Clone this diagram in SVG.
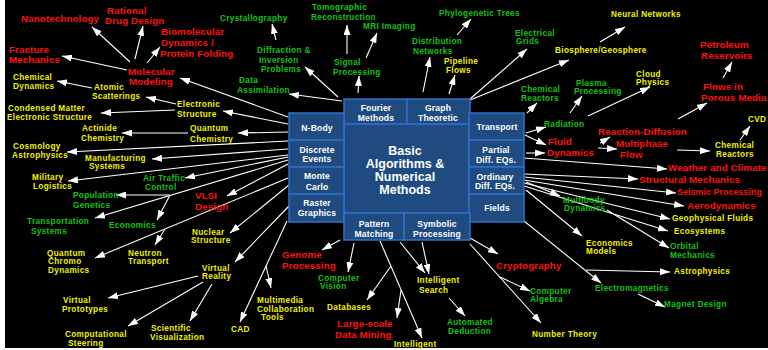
<svg xmlns="http://www.w3.org/2000/svg" width="768" height="350" viewBox="0 0 768 350">
<defs>
<marker id="ah" viewBox="0 0 10 7" refX="10" refY="3.5" markerWidth="10" markerHeight="7" markerUnits="userSpaceOnUse" orient="auto"><path d="M0,0 L10,3.5 L0,7 z" fill="#fff"/></marker>
<style>
.box{fill:#1f4b80;stroke:#2f70c8;stroke-width:1.5}
.bt{font-family:"Liberation Sans",Arial,sans-serif;font-weight:bold;font-size:8.6px;letter-spacing:0.15px;fill:#fff;text-anchor:middle}
.ct{font-family:"Liberation Sans",Arial,sans-serif;font-weight:bold;font-size:12.5px;fill:#fff;text-anchor:middle}
text.l{font-family:"Liberation Sans",Arial,sans-serif;font-weight:bold;font-size:8.2px;letter-spacing:0.35px}
.y{fill:#f2f200}
.g{fill:#14c414}
text.l.r{fill:#ff1010;font-size:9.8px;letter-spacing:0.1px}
#seismic text.l.r{font-size:8.8px}
#connectors line{stroke:#fff;stroke-width:1.1}
#connectors line.a{marker-end:url(#ah)}
</style>
</defs>
<rect x="0" y="0" width="768" height="350" fill="#fff"/>
<rect x="5" y="0" width="763" height="348" fill="#000"/>

<g id="connectors">
<line class="a" x1="130" y1="62" x2="92" y2="27"/>
<line class="a" x1="135" y1="59" x2="143" y2="26"/>
<line class="a" x1="147" y1="63" x2="160" y2="47"/>
<line class="a" x1="127" y1="70" x2="62" y2="56"/>
<line class="a" x1="288" y1="117" x2="180" y2="78"/>
<line class="a" x1="288" y1="124" x2="223" y2="111"/>
<line class="a" x1="176" y1="104" x2="146" y2="97"/>
<line class="a" x1="175" y1="110" x2="101" y2="113"/>
<line class="a" x1="92" y1="88" x2="57" y2="81"/>
<line class="a" x1="288" y1="132" x2="238" y2="133"/>
<line class="a" x1="188" y1="133" x2="122" y2="133"/>
<line class="a" x1="288" y1="141" x2="67" y2="152"/>
<line class="a" x1="288" y1="149" x2="152" y2="159"/>
<line class="a" x1="288" y1="155" x2="68" y2="181"/>
<line class="a" x1="288" y1="157" x2="185" y2="178"/>
<line class="a" x1="288" y1="160" x2="95" y2="218"/>
<line class="a" x1="170" y1="195" x2="116" y2="195"/>
<line class="a" x1="170" y1="195" x2="157" y2="220"/>
<line class="a" x1="288" y1="164" x2="227" y2="196"/>
<line class="a" x1="288" y1="178" x2="95" y2="258"/>
<line class="a" x1="165" y1="229" x2="155" y2="245"/>
<line class="a" x1="289" y1="185" x2="230" y2="233"/>
<line class="a" x1="289" y1="206" x2="235" y2="262"/>
<line class="a" x1="198" y1="276" x2="108" y2="298"/>
<line class="a" x1="203" y1="282" x2="128" y2="326"/>
<line class="a" x1="212" y1="284" x2="190" y2="321"/>
<line class="a" x1="287" y1="221" x2="240" y2="322"/>
<line class="a" x1="266" y1="266" x2="271" y2="288"/>
<line class="a" x1="340" y1="240" x2="322" y2="250"/>
<line class="a" x1="354" y1="243" x2="348" y2="272"/>
<line class="a" x1="380" y1="241" x2="422" y2="338"/>
<line class="a" x1="391" y1="266" x2="367" y2="300"/>
<line class="a" x1="401" y1="290" x2="397" y2="318"/>
<line class="a" x1="400" y1="242" x2="425" y2="273"/>
<line class="a" x1="422" y1="242" x2="429" y2="274"/>
<line class="a" x1="449" y1="298" x2="465" y2="316"/>
<line class="a" x1="470" y1="238" x2="498" y2="254"/>
<line class="a" x1="470" y1="244" x2="541" y2="323"/>
<line class="a" x1="500" y1="277" x2="530" y2="291"/>
<line class="a" x1="524" y1="221" x2="601" y2="283"/>
<line class="a" x1="586" y1="270" x2="670" y2="272"/>
<line class="a" x1="638" y1="294" x2="665" y2="307"/>
<line class="a" x1="526" y1="190" x2="582" y2="236"/>
<line class="a" x1="526" y1="182" x2="560" y2="196"/>
<line class="a" x1="607" y1="210" x2="669" y2="248"/>
<line class="a" x1="524" y1="186" x2="668" y2="231"/>
<line class="a" x1="524" y1="183" x2="670" y2="219"/>
<line class="a" x1="524" y1="180" x2="684" y2="206"/>
<line class="a" x1="524" y1="177" x2="676" y2="193"/>
<line class="a" x1="524" y1="174" x2="638" y2="179"/>
<line class="a" x1="524" y1="158" x2="667" y2="169"/>
<line class="a" x1="526" y1="153" x2="545" y2="153"/>
<line class="a" x1="525" y1="135" x2="546" y2="145"/>
<line class="a" x1="526" y1="133" x2="546" y2="127"/>
<line class="a" x1="527" y1="113" x2="537" y2="103"/>
<line class="a" x1="570" y1="113" x2="582" y2="96"/>
<line class="a" x1="588" y1="116" x2="650" y2="87"/>
<line class="a" x1="600" y1="143" x2="610" y2="137"/>
<line class="a" x1="598" y1="148" x2="617" y2="149"/>
<line class="a" x1="677" y1="150" x2="710" y2="151"/>
<line class="a" x1="740" y1="140" x2="750" y2="126"/>
<line class="a" x1="678" y1="119" x2="707" y2="103"/>
<line class="a" x1="723" y1="78" x2="732" y2="62"/>
<line class="a" x1="470" y1="99" x2="527" y2="49"/>
<line class="a" x1="470" y1="100" x2="569" y2="60"/>
<line class="a" x1="600" y1="42" x2="625" y2="27"/>
<line class="a" x1="449" y1="94" x2="455" y2="75"/>
<line class="a" x1="423" y1="92" x2="430" y2="57"/>
<line class="a" x1="457" y1="35" x2="471" y2="19"/>
<line class="a" x1="358" y1="93" x2="359" y2="76"/>
<line class="a" x1="347" y1="54" x2="347" y2="25"/>
<line class="a" x1="366" y1="58" x2="377" y2="33"/>
<line class="a" x1="338" y1="97" x2="305" y2="67"/>
<line class="a" x1="276" y1="40" x2="272" y2="24"/>
<line class="a" x1="342" y1="101" x2="289" y2="94"/>
</g>

<g id="center"><rect class="box" x="344" y="124" width="125" height="89"/>
<text class="ct" x="405" y="155">Basic</text><text class="ct" x="405" y="168">Algorithms &amp;</text><text class="ct" x="405" y="181">Numerical</text><text class="ct" x="405" y="194">Methods</text></g>
<g id="fourier"><rect class="box" x="344" y="99" width="63" height="25"/><text class="bt" x="376" y="111">Fourier</text><text class="bt" x="376" y="121">Methods</text></g>
<g id="graph"><rect class="box" x="407" y="99" width="63" height="25"/><text class="bt" x="438" y="111">Graph</text><text class="bt" x="438" y="121">Theoretic</text></g>
<g id="nbody"><rect class="box" x="289" y="113" width="55" height="27"/><text class="bt" x="317" y="131">N-Body</text></g>
<g id="discrete"><rect class="box" x="289" y="140" width="55" height="27"/><text class="bt" x="317" y="153">Discrete</text><text class="bt" x="317" y="162">Events</text></g>
<g id="monte"><rect class="box" x="289" y="167" width="55" height="27"/><text class="bt" x="317" y="179">Monte</text><text class="bt" x="317" y="190">Carlo</text></g>
<g id="raster"><rect class="box" x="289" y="194" width="55" height="28"/><text class="bt" x="317" y="206">Raster</text><text class="bt" x="317" y="216">Graphics</text></g>
<g id="transport"><rect class="box" x="469" y="113" width="55" height="27"/><text class="bt" x="497" y="130">Transport</text></g>
<g id="pde"><rect class="box" x="469" y="140" width="55" height="27"/><text class="bt" x="496" y="153">Partial</text><text class="bt" x="496" y="163">Diff. EQs.</text></g>
<g id="ode"><rect class="box" x="469" y="167" width="55" height="27"/><text class="bt" x="495" y="180">Ordinary</text><text class="bt" x="495" y="189">Diff. EQs.</text></g>
<g id="fields"><rect class="box" x="469" y="194" width="55" height="28"/><text class="bt" x="497" y="211">Fields</text></g>
<g id="pattern"><rect class="box" x="344" y="213" width="60" height="27"/><text class="bt" x="374" y="227">Pattern</text><text class="bt" x="374" y="237">Matching</text></g>
<g id="symbolic"><rect class="box" x="404" y="213" width="66" height="27"/><text class="bt" x="437" y="227">Symbolic</text><text class="bt" x="437" y="237">Processing</text></g>

<g id="nanotech"><text class="l r" x="21" y="22">Nanotechnology</text></g>
<g id="rational"><text class="l r" x="107" y="14">Rational</text><text class="l r" x="105" y="24">Drug Design</text></g>
<g id="biomol"><text class="l r" x="161" y="35">Biomolecular</text><text class="l r" x="161" y="46">Dynamics /</text><text class="l r" x="160" y="57">Protein Folding</text></g>
<g id="fracture"><text class="l r" x="9" y="53">Fracture</text><text class="l r" x="9" y="63">Mechanics</text></g>
<g id="molmod"><text class="l r" x="128" y="75">Molecular</text><text class="l r" x="129" y="85">Modeling</text></g>
<g id="vlsi"><text class="l r" x="195" y="199">VLSI</text><text class="l r" x="195" y="210">Design</text></g>
<g id="genome"><text class="l r" x="282" y="258">Genome</text><text class="l r" x="282" y="269">Processing</text></g>
<g id="datamining"><text class="l r" x="337" y="327">Large-scale</text><text class="l r" x="335" y="338">Data Mining</text></g>
<g id="crypto"><text class="l r" x="496" y="269">Cryptography</text></g>
<g id="fluid"><text class="l r" x="548" y="145">Fluid</text><text class="l r" x="547" y="156">Dynamics</text></g>
<g id="reacdiff"><text class="l r" x="598" y="135">Reaction-Diffusion</text></g>
<g id="multiphase"><text class="l r" x="616" y="147">Multiphase</text><text class="l r" x="620" y="158">Flow</text></g>
<g id="weather"><text class="l r" x="668" y="171">Weather and Climate</text></g>
<g id="structural"><text class="l r" x="639" y="183">Structural Mechanics</text></g>
<g id="seismic"><text class="l r" x="677" y="195">Seismic Processing</text></g>
<g id="aero"><text class="l r" x="687" y="209">Aerodynamics</text></g>
<g id="petroleum"><text class="l r" x="700" y="48">Petroleum</text><text class="l r" x="701" y="59">Reservoirs</text></g>
<g id="porous"><text class="l r" x="703" y="90">Flows in</text><text class="l r" x="701" y="101">Porous Media</text></g>

<g id="chemdyn"><text class="l y" x="13" y="80">Chemical</text><text class="l y" x="13" y="89">Dynamics</text></g>
<g id="atomic"><text class="l y" x="94" y="90">Atomic</text><text class="l y" x="92" y="99">Scatterings</text></g>
<g id="elecstruct"><text class="l y" x="177" y="107">Electronic</text><text class="l y" x="177" y="117">Structure</text></g>
<g id="condensed"><text class="l y" x="8" y="111">Condensed Matter</text><text class="l y" x="7" y="120">Electronic Structure</text></g>
<g id="actinide"><text class="l y" x="82" y="131">Actinide</text><text class="l y" x="81" y="141">Chemistry</text></g>
<g id="quantchem"><text class="l y" x="190" y="131">Quantum</text><text class="l y" x="190" y="142">Chemistry</text></g>
<g id="cosmology"><text class="l y" x="13" y="149">Cosmology</text><text class="l y" x="12" y="158">Astrophysics</text></g>
<g id="manufacturing"><text class="l y" x="85" y="161">Manufacturing</text><text class="l y" x="89" y="169">Systems</text></g>
<g id="military"><text class="l y" x="32" y="180">Military</text><text class="l y" x="33" y="189">Logistics</text></g>
<g id="qcd"><text class="l y" x="47" y="256">Quantum</text><text class="l y" x="48" y="264">Chromo</text><text class="l y" x="48" y="273">Dynamics</text></g>
<g id="neutron"><text class="l y" x="128" y="256">Neutron</text><text class="l y" x="128" y="264">Transport</text></g>
<g id="nuclear"><text class="l y" x="192" y="235">Nuclear</text><text class="l y" x="191" y="243">Structure</text></g>
<g id="vr"><text class="l y" x="202" y="271">Virtual</text><text class="l y" x="202" y="279">Reality</text></g>
<g id="vproto"><text class="l y" x="63" y="303">Virtual</text><text class="l y" x="62" y="312">Prototypes</text></g>
<g id="compsteer"><text class="l y" x="65" y="337">Computational</text><text class="l y" x="68" y="346">Steering</text></g>
<g id="scivis"><text class="l y" x="151" y="331">Scientific</text><text class="l y" x="150" y="340">Visualization</text></g>
<g id="cad"><text class="l y" x="231" y="332">CAD</text></g>
<g id="multimedia"><text class="l y" x="257" y="303">Multimedia</text><text class="l y" x="257" y="311.5">Collaboration</text><text class="l y" x="261" y="320">Tools</text></g>
<g id="databases"><text class="l y" x="327" y="310">Databases</text></g>
<g id="intelligent"><text class="l y" x="394" y="347">Intelligent</text></g>
<g id="intsearch"><text class="l y" x="417" y="283">Intelligent</text><text class="l y" x="419" y="293">Search</text></g>
<g id="numtheory"><text class="l y" x="532" y="337">Number Theory</text></g>
<g id="econmodels"><text class="l y" x="586" y="246">Economics</text><text class="l y" x="586" y="254">Models</text></g>
<g id="astro"><text class="l y" x="674" y="274">Astrophysics</text></g>
<g id="ecosystems"><text class="l y" x="674" y="234">Ecosystems</text></g>
<g id="geofluids"><text class="l y" x="672" y="221">Geophysical Fluids</text></g>
<g id="chemreact2"><text class="l y" x="715" y="148">Chemical</text><text class="l y" x="716" y="157">Reactors</text></g>
<g id="cvd"><text class="l y" x="748" y="122">CVD</text></g>
<g id="cloud"><text class="l y" x="636" y="77">Cloud</text><text class="l y" x="636" y="85">Physics</text></g>
<g id="neural"><text class="l y" x="611" y="17">Neural Networks</text></g>
<g id="biosphere"><text class="l y" x="555" y="53">Biosphere/Geosphere</text></g>
<g id="pipeline"><text class="l y" x="444" y="64">Pipeline</text><text class="l y" x="446" y="73">Flows</text></g>

<g id="crystal"><text class="l g" x="220" y="21">Crystallography</text></g>
<g id="tomo"><text class="l g" x="312" y="10">Tomographic</text><text class="l g" x="311" y="20">Reconstruction</text></g>
<g id="mri"><text class="l g" x="363" y="29">MRI Imaging</text></g>
<g id="phylo"><text class="l g" x="439" y="16">Phylogenetic Trees</text></g>
<g id="diffraction"><text class="l g" x="257" y="53">Diffraction &amp;</text><text class="l g" x="259" y="63">Inversion</text><text class="l g" x="261" y="72">Problems</text></g>
<g id="dataassim"><text class="l g" x="239" y="83">Data</text><text class="l g" x="237" y="93">Assimilation</text></g>
<g id="signal"><text class="l g" x="334" y="65">Signal</text><text class="l g" x="333" y="75">Processing</text></g>
<g id="distribution"><text class="l g" x="412" y="44">Distribution</text><text class="l g" x="413" y="54">Networks</text></g>
<g id="grids"><text class="l g" x="515" y="36">Electrical</text><text class="l g" x="516" y="44">Grids</text></g>
<g id="chemreact1"><text class="l g" x="521" y="92">Chemical</text><text class="l g" x="521" y="101">Reactors</text></g>
<g id="plasma"><text class="l g" x="576" y="86">Plasma</text><text class="l g" x="574" y="94">Processing</text></g>
<g id="radiation"><text class="l g" x="544" y="127">Radiation</text></g>
<g id="multibody"><text class="l g" x="563" y="203">Multibody</text><text class="l g" x="564" y="211">Dynamics</text></g>
<g id="orbital"><text class="l g" x="670" y="249">Orbital</text><text class="l g" x="670" y="258">Mechanics</text></g>
<g id="electromag"><text class="l g" x="595" y="291">Electromagnetics</text></g>
<g id="magnet"><text class="l g" x="664" y="307">Magnet Design</text></g>
<g id="compalg"><text class="l g" x="530" y="294">Computer</text><text class="l g" x="530" y="302">Algebra</text></g>
<g id="deduction"><text class="l g" x="447" y="325">Automated</text><text class="l g" x="448" y="334">Deduction</text></g>
<g id="vision"><text class="l g" x="318" y="281">Computer</text><text class="l g" x="320" y="289">Vision</text></g>
<g id="airtraffic"><text class="l g" x="143" y="181">Air Traffic</text><text class="l g" x="145" y="190">Control</text></g>
<g id="popgen"><text class="l g" x="73" y="198">Population</text><text class="l g" x="73" y="208">Genetics</text></g>
<g id="transportation"><text class="l g" x="27" y="224">Transportation</text><text class="l g" x="31" y="234">Systems</text></g>
<g id="economics"><text class="l g" x="109" y="228">Economics</text></g>
</svg>
